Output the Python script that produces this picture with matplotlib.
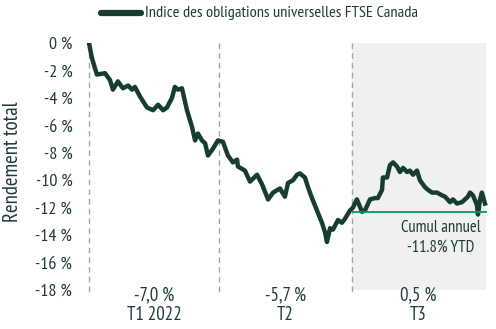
import matplotlib
matplotlib.use("Agg")
import matplotlib.pyplot as plt
from matplotlib import font_manager as fm

# ---- data ----
days = [0, 1.4, 3.8, 7.7, 10.1, 11.5, 13.9, 16.3, 18.8, 20.7, 22.1, 24.5, 27.9, 30.8,
        33.2, 35.6, 37.5, 39.9, 41.3, 42.8, 44.7, 47.1, 49.5, 51.0, 52.4, 54.3, 55.8,
        57.2, 59.6, 62.0, 64.4, 66.8, 69.2, 71.2, 71.6, 75.0, 77.4, 80.8, 83.2, 86.1,
        88.5, 91.8, 94.2, 95.7, 98.1, 100.0, 101.4, 103.8, 105.3, 107.2, 109.6, 112.0,
        113.5, 114.4, 115.9, 117.3, 119.7, 121.6, 123.1, 125.5, 126.9, 128.8, 131.3,
        132.7, 135.1, 137.5, 138.9, 140.9, 141.3, 143.3, 144.7, 146.2, 148.1, 149.5,
        151.0, 152.9, 154.3, 155.8, 157.7, 159.1, 161.5, 163.0, 164.9, 167.3, 169.7,
        171.2, 173.6, 175.0, 176.9, 179.3, 182.2, 183.2, 184.6, 186.5, 187.0, 188.0,
        188.9, 190.4]
returns = [0.0, -1.1, -2.3, -2.2, -2.7, -3.4, -2.8, -3.3, -3.1, -3.4, -3.2, -3.9, -4.7,
           -4.9, -4.5, -4.9, -4.7, -4.0, -3.2, -3.4, -3.3, -4.9, -6.1, -7.1, -6.6, -7.1,
           -7.3, -8.2, -7.7, -7.1, -7.2, -8.2, -8.7, -8.5, -9.0, -9.3, -10.1, -9.6, -10.3,
           -11.4, -10.9, -10.6, -11.2, -10.2, -10.0, -9.6, -9.5, -9.8, -10.5, -11.3,
           -12.2, -13.1, -13.8, -14.5, -13.5, -13.6, -12.9, -13.1, -12.8, -12.2, -12.0,
           -11.4, -12.3, -12.2, -11.4, -11.3, -11.3, -10.7, -9.8, -9.8, -8.9, -8.7, -9.0,
           -9.4, -9.1, -9.4, -9.3, -9.6, -9.3, -10.0, -10.5, -10.7, -10.9, -10.9, -11.1,
           -11.2, -11.6, -11.4, -11.7, -11.6, -11.2, -10.9, -11.1, -11.8, -12.5, -11.4,
           -10.9, -11.7]
quarter_bounds = [0, 62.5, 126.4, 190.4]
quarter_names = ["T1 2022", "T2", "T3"]
quarter_returns = ["-7,0 %", "-5,7 %", "0,5 %"]
ytd_level = -12.35
yticks = [0, -2, -4, -6, -8, -10, -12, -14, -16, -18]
ytick_labels = ["0 %", "-2 %", "-4 %", "-6 %", "-8 %", "-10 %", "-12 %", "-14 %", "-16 %", "-18 %"]
series_name = "Indice des obligations universelles FTSE Canada"

# ---- style ----
installed = {f.name for f in fm.fontManager.ttflist}
pref = [n for n in ["PT Sans Narrow", "Fira Sans Condensed", "Asap Condensed", "Archivo Narrow"]
        if n in installed]
fam = pref[:1] + ["DejaVu Sans"]
plt.rcParams['font.family'] = fam
txt = "#1e3a3c"
line_c = "#173d33"

W, H = 496, 329
fig = plt.figure(figsize=(W / 100, H / 100), dpi=100)
L, R, T, B = 80, 488, 43, 290
ax = fig.add_axes([L / W, 1 - B / H, (R - L) / W, (B - T) / H])
px_per_day = (485 - 89) / 190.4
ax.set_xlim(-(89 - L) / px_per_day, 190.4 + (R - 485) / px_per_day)
ax.set_ylim(-18, 0)
for s in ax.spines.values():
    s.set_visible(False)
ax.set_xticks([])
ax.set_yticks(yticks)
ax.set_yticklabels(ytick_labels, fontsize=13, color=txt)
ax.tick_params(axis='y', length=0, pad=5.5)
ax.set_ylabel("Rendement total", fontsize=15, color=txt)
ax.yaxis.set_label_coords(-(80 - 22) / (R - L), 0.52)

# shaded Q3
ax.axvspan(quarter_bounds[2], quarter_bounds[3], ymin=0, ymax=1, color="#f0f0ef", zorder=0)
# dashed quarter lines
for qb in quarter_bounds[:3]:
    ax.plot([qb, qb], [0, -18.4], ls=(0, (4, 3)), color="#9aa9a8", lw=1, clip_on=False, zorder=1)

ax.plot(days, returns, color=line_c, lw=3.2, solid_joinstyle='round', zorder=3)
ax.plot([quarter_bounds[2] + 0.5, quarter_bounds[3] + 0.5], [ytd_level, ytd_level],
        color="#08956b", lw=1.3, zorder=4)

ax.text(169.2, -13.5, "Cumul annuel", ha='center', va='center', fontsize=12, color=txt)
ax.text(169.2, -14.95, "-11.8% YTD", ha='center', va='center', fontsize=12, color=txt)

for i in range(3):
    c = (quarter_bounds[i] + quarter_bounds[i + 1]) / 2
    ax.text(c, -18.4, quarter_returns[i], ha='center', va='center', fontsize=13.5, color=txt, clip_on=False)
    ax.text(c, -19.85, quarter_names[i], ha='center', va='center', fontsize=13.5, color=txt, clip_on=False)

# legend
fig.add_artist(plt.Line2D([101 / W, 141 / W], [1 - 13 / H, 1 - 13 / H], color=line_c, lw=4.5,
                          solid_capstyle='round', transform=fig.transFigure))
fig.text(145 / W, 1 - 13 / H, series_name, ha='left', va='center', fontsize=11.8, color=txt)

fig.savefig("out.png", dpi=100)
